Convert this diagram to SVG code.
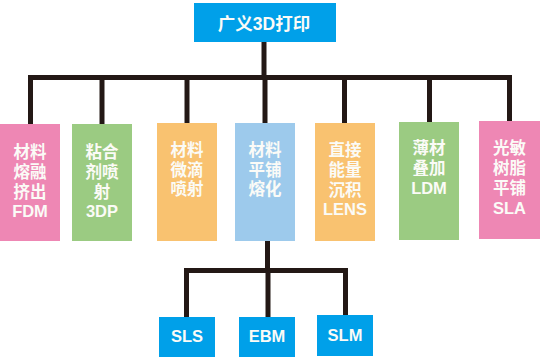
<svg xmlns="http://www.w3.org/2000/svg" width="540" height="360" viewBox="0 0 540 360">
<style>
.t{font-family:"Liberation Sans","Noto Sans CJK SC",sans-serif;font-weight:bold;fill:#FBFBF7;text-anchor:middle;dominant-baseline:central}
.c{font-size:16.5px}
.h{font-size:17.5px}
.ln{fill:none;stroke:#231815;stroke-width:5;stroke-linejoin:miter}
.blue{fill:#00A0E9}
.pink{fill:#EE87B4}
.green{fill:#9BCB82}
.orange{fill:#F9C270}
.lblue{fill:#9DCAEC}
</style>
<rect width="540" height="360" fill="#FFFFFF"/>
<g id="connectors">
<line class="ln" x1="264" y1="42" x2="264" y2="78"/>
<polyline class="ln" points="30.5,124 30.5,77.5 509.5,77.5 509.5,121"/>
<line class="ln" x1="102" y1="77.5" x2="102" y2="124"/>
<line class="ln" x1="187" y1="77.5" x2="187" y2="123"/>
<line class="ln" x1="265" y1="77.5" x2="265" y2="123"/>
<line class="ln" x1="344.5" y1="77.5" x2="344.5" y2="123"/>
<line class="ln" x1="429.5" y1="77.5" x2="429.5" y2="122"/>
<line class="ln" x1="267.5" y1="241" x2="267.5" y2="271"/>
<polyline class="ln" points="186.5,317 186.5,270.5 345.5,270.5 345.5,315"/>
<line class="ln" x1="268" y1="270.5" x2="268" y2="317"/>
</g>
<g id="root">
<rect class="blue" x="194" y="3" width="142" height="39"/>
<text class="t h" x="264" y="24">广义3D打印</text>
</g>
<g id="fdm">
<rect class="pink" x="0" y="124" width="60" height="117"/>
<text class="t c" x="30" y="152">材料</text>
<text class="t c" x="30" y="172">熔融</text>
<text class="t c" x="30" y="192">挤出</text>
<text class="t c" x="30" y="211">FDM</text>
</g>
<g id="3dp">
<rect class="green" x="72" y="124" width="60" height="117"/>
<text class="t c" x="102" y="152">粘合</text>
<text class="t c" x="102" y="172">剂喷</text>
<text class="t c" x="102" y="192">射</text>
<text class="t c" x="102" y="211">3DP</text>
</g>
<g id="droplet">
<rect class="orange" x="157" y="123" width="60" height="118"/>
<text class="t c" x="187" y="150">材料</text>
<text class="t c" x="187" y="170">微滴</text>
<text class="t c" x="187" y="189">喷射</text>
</g>
<g id="powderbed">
<rect class="lblue" x="235" y="123" width="60" height="118"/>
<text class="t c" x="265" y="150">材料</text>
<text class="t c" x="265" y="170">平铺</text>
<text class="t c" x="265" y="189">熔化</text>
</g>
<g id="lens">
<rect class="orange" x="315" y="123" width="60" height="118"/>
<text class="t c" x="345" y="150">直接</text>
<text class="t c" x="345" y="170">能量</text>
<text class="t c" x="345" y="190">沉积</text>
<text class="t c" x="345" y="209">LENS</text>
</g>
<g id="ldm">
<rect class="green" x="399" y="122" width="60" height="118"/>
<text class="t c" x="429" y="148">薄材</text>
<text class="t c" x="429" y="168">叠加</text>
<text class="t c" x="429" y="188">LDM</text>
</g>
<g id="sla">
<rect class="pink" x="479" y="121" width="61" height="118"/>
<text class="t c" x="509.5" y="148">光敏</text>
<text class="t c" x="509.5" y="168">树脂</text>
<text class="t c" x="509.5" y="188">平铺</text>
<text class="t c" x="509.5" y="208">SLA</text>
</g>
<g id="sls">
<rect class="blue" x="159" y="317" width="56" height="40"/>
<text class="t c" x="187" y="336">SLS</text>
</g>
<g id="ebm">
<rect class="blue" x="239" y="317" width="56" height="40"/>
<text class="t c" x="267" y="336">EBM</text>
</g>
<g id="slm">
<rect class="blue" x="317" y="315" width="56" height="41"/>
<text class="t c" x="345" y="335">SLM</text>
</g>
</svg>
